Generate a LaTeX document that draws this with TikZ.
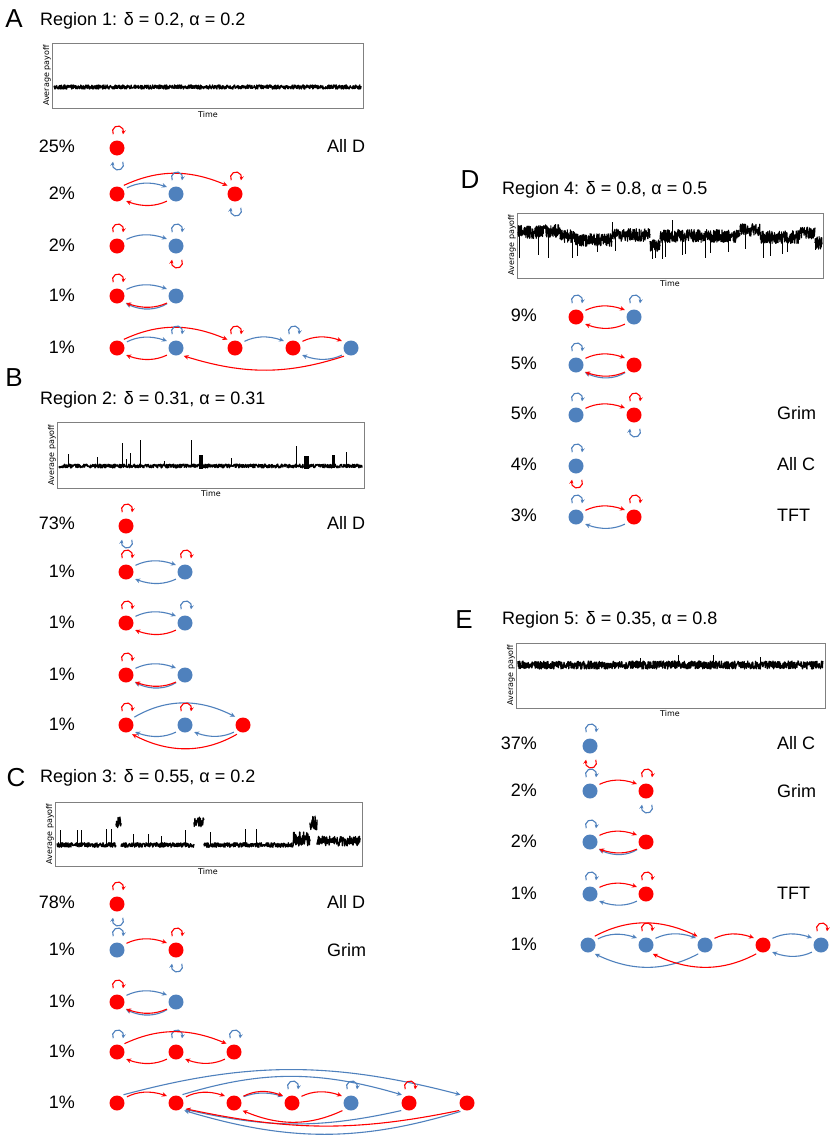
\documentclass[tikz,border=0pt]{standalone}
\usepackage{fontspec}
\setmainfont{Liberation Sans}
\newfontfamily\plotfont{DejaVu Sans}
\usetikzlibrary{arrows.meta,bending}
\definecolor{myred}{RGB}{255,0,0}
\definecolor{myblue}{RGB}{79,129,189}
\newcommand\LoopUp[2]{\draw[#1] ([shift={(-3.76pt,13.8pt)}]#2.center) arc[start angle=210,end angle=-30,radius=5.5pt];}
\newcommand\LoopDn[2]{\draw[#1] ([shift={(5.76pt,-13.8pt)}]#2.center) arc[start angle=30,end angle=-210,radius=5.5pt];}
\begin{document}
\begin{tikzpicture}[x=1pt,y=-1pt,
  st/.style={circle,inner sep=0pt,minimum size=15pt},
  rs/.style={st,fill=myred},
  bs/.style={st,fill=myblue},
  ra/.style={draw=myred,line width=1.1pt,-{Stealth[length=5pt,width=4.6pt]},shorten <=4pt,shorten >=4pt},
  ba/.style={draw=myblue,line width=1.1pt,-{Stealth[length=5pt,width=4.6pt]},shorten <=4pt,shorten >=4pt},
  rl/.style={draw=myred,line width=1.1pt,-{Stealth[length=3.8pt,width=4pt,bend]}},
  bl/.style={draw=myblue,line width=1.1pt,-{Stealth[length=3.8pt,width=4pt,bend]}},
  ttl/.style={font=\fontsize{18}{21}\selectfont,anchor=west,inner sep=0pt},
  pct/.style={font=\fontsize{18}{21}\selectfont,anchor=east,inner sep=0pt},
  lab/.style={font=\fontsize{18}{21}\selectfont,anchor=west,inner sep=0pt},
  panlet/.style={font=\fontsize{26}{28}\selectfont,inner sep=0pt},
  axl/.style={font=\plotfont\fontsize{8}{9}\selectfont,inner sep=0pt},
  frame/.style={draw=black!50,line width=0.7pt},
  trace/.style={draw=black,line width=1.3pt,line join=round}]
\fill[white] (0,0) rectangle (830,1135);
\useasboundingbox (0,0) rectangle (830,1135);
\pgfmathsetseed{7}

% ================= Panel A =================
\node[panlet] (LA) at (14,19) {A};
\node[ttl] (TA) at (40,21) {Region 1: δ = 0.2, α = 0.2};
\draw[frame] (52,43) rectangle (363,108);
\node[axl,rotate=90] (yA) at (47,75.5) {Average payoff};
\node[axl] (tA) at (208,115) {Time};
\draw[trace] plot[domain=54:361,samples=1000] (\x,{87+2.1*rand});

\node[pct] (pA1) at (75,146) {25\%};
\node[pct] (pA2) at (75,193) {2\%};
\node[pct] (pA3) at (75,245) {2\%};
\node[pct] (pA4) at (75,295) {1\%};
\node[pct] (pA5) at (75,347) {1\%};
\node[lab] (nA1) at (327,146) {All D};

\node[rs] (A11) at (117,148) {};
\LoopUp{rl}{A11} \LoopDn{bl}{A11}

\node[rs] (A21) at (117,194) {};
\node[bs] (A22) at (176,194) {};
\node[rs] (A23) at (235,194) {};
\draw[ba] (A21.35) to[bend left=25] (A22.135);
\draw[ra] (A21.65) to[bend left=25] (A23.120);
\LoopUp{bl}{A22}
\draw[ra] (A22.-135) to[bend left=25] (A21.-45);
\LoopUp{rl}{A23} \LoopDn{bl}{A23}

\node[rs] (A31) at (117,246) {};
\node[bs] (A32) at (176,246) {};
\LoopUp{rl}{A31}
\draw[ba] (A31.40) to[bend left=25] (A32.135);
\LoopUp{bl}{A32} \LoopDn{rl}{A32}

\node[rs] (A41) at (117,296) {};
\node[bs] (A42) at (176,296) {};
\LoopUp{rl}{A41}
\draw[ba] (A41.40) to[bend left=25] (A42.135);
\draw[ba] (A42.-135) to[bend left=32] (A41.-45);
\draw[ra] (A42.-135) to[bend left=24] (A41.-45);

\node[rs] (A51) at (117,348) {};
\node[bs] (A52) at (176,348) {};
\node[rs] (A53) at (235,348) {};
\node[rs] (A54) at (293,348) {};
\node[bs] (A55) at (351,348) {};
\draw[ba] (A51.35) to[bend left=25] (A52.135);
\draw[ra] (A51.65) to[bend left=25] (A53.120);
\LoopUp{bl}{A52}
\draw[ra] (A52.-135) to[bend left=25] (A51.-45);
\LoopUp{rl}{A53}
\draw[ba] (A53.40) to[bend left=25] (A54.135);
\LoopUp{bl}{A54}
\draw[ra] (A54.40) to[bend left=25] (A55.135);
\draw[ba] (A55.-135) to[bend left=25] (A54.-45);
\draw[ra] (A55.-115) to[bend left=18] (A52.-60);

% ================= Panel B =================
\node[panlet] (LB) at (14,378) {B};
\node[ttl] (TB) at (40,400) {Region 2: δ = 0.31, α = 0.31};
\draw[frame] (57,422) rectangle (364,488);
\node[axl,rotate=90] (yB) at (52,455) {Average payoff};
\node[axl] (tB) at (211,494) {Time};
\draw[trace] plot[domain=59:362,samples=1000] (\x,{466+1.9*rand});
\foreach \sx/\sy in {68/454,97/457,122/443,126/459,130/453,140/440,164/461,191/440,231/458,296/446,346/452}
  \draw[trace,line width=0.8pt] (\sx,466) -- (\sx,\sy);
\fill (198.5,455) rectangle (203,469);
\fill (304,456) rectangle (308.5,469);
\fill (332,455) rectangle (335,468);

\node[pct] (pB1) at (75,523) {73\%};
\node[pct] (pB2) at (75,571) {1\%};
\node[pct] (pB3) at (75,622) {1\%};
\node[pct] (pB4) at (75,674) {1\%};
\node[pct] (pB5) at (75,724) {1\%};
\node[lab] (nB1) at (327,523) {All D};

\node[rs] (B11) at (126,526) {};
\LoopUp{rl}{B11} \LoopDn{bl}{B11}

\node[rs] (B21) at (126,572) {};
\node[bs] (B22) at (185,572) {};
\LoopUp{rl}{B21}
\draw[ba] (B21.40) to[bend left=25] (B22.135);
\LoopUp{rl}{B22}
\draw[ba] (B22.-135) to[bend left=25] (B21.-45);

\node[rs] (B31) at (126,623) {};
\node[bs] (B32) at (185,623) {};
\LoopUp{rl}{B31}
\draw[ba] (B31.40) to[bend left=25] (B32.135);
\LoopUp{bl}{B32}
\draw[ra] (B32.-135) to[bend left=25] (B31.-45);

\node[rs] (B41) at (126,675) {};
\node[bs] (B42) at (185,675) {};
\LoopUp{rl}{B41}
\draw[ba] (B41.40) to[bend left=25] (B42.135);
\draw[ba] (B42.-135) to[bend left=32] (B41.-45);
\draw[ra] (B42.-135) to[bend left=24] (B41.-45);

\node[rs] (B51) at (126,725) {};
\node[bs] (B52) at (185,725) {};
\node[rs] (B53) at (243,725) {};
\LoopUp{rl}{B51}
\draw[ba] (B51.50) to[bend left=30] (B53.125);
\LoopUp{rl}{B52}
\draw[ba] (B52.-135) to[bend left=25] (B51.-45);
\draw[ba] (B53.-135) to[bend left=25] (B52.-45);
\draw[ra] (B53.-110) to[bend left=30] (B51.-70);

% ================= Panel C =================
\node[panlet] (LC) at (16,778) {C};
\node[ttl] (TC) at (40,778) {Region 3: δ = 0.55, α = 0.2};
\draw[frame] (55,802) rectangle (362,866);
\node[axl,rotate=90] (yC) at (50,834) {Average payoff};
\node[axl] (tC) at (208,872) {Time};
\draw[trace] plot[domain=57:116,samples=200] (\x,{845+2.3*rand});
\draw[trace] plot[domain=116:121,samples=20] (\x,{823+6*rand});
\draw[trace] plot[domain=121:194,samples=240] (\x,{845+2.3*rand});
\draw[trace] plot[domain=194:204,samples=34] (\x,{822+5*rand});
\draw[trace] plot[domain=204:293,samples=290] (\x,{845+2.3*rand});
\draw[trace] plot[domain=293:310,samples=60] (\x,{839+7*rand});
\draw[trace] plot[domain=310:317,samples=26] (\x,{823+7*rand});
\draw[trace] plot[domain=317:360,samples=150] (\x,{841+5*rand});
\foreach \sx/\sy in {60/830,77/830,81/830,106/829,111/829,133/834,148/834,161/836,185/830,210/832,245/829,256/829}
  \draw[trace,line width=0.8pt] (\sx,845) -- (\sx,\sy);

\node[pct] (pC1) at (75,902) {78\%};
\node[pct] (pC2) at (75,949) {1\%};
\node[pct] (pC3) at (75,1001) {1\%};
\node[pct] (pC4) at (75,1051) {1\%};
\node[pct] (pC5) at (75,1102) {1\%};
\node[lab] (nC1) at (327,902) {All D};
\node[lab] (nC2) at (327,950) {Grim};

\node[rs] (C11) at (117,904) {};
\LoopUp{rl}{C11} \LoopDn{bl}{C11}

\node[bs] (C21) at (117,950) {};
\node[rs] (C22) at (176,950) {};
\LoopUp{bl}{C21}
\draw[ra] (C21.40) to[bend left=25] (C22.135);
\LoopUp{rl}{C22} \LoopDn{bl}{C22}

\node[rs] (C31) at (117,1002) {};
\node[bs] (C32) at (176,1002) {};
\LoopUp{rl}{C31}
\draw[ba] (C31.40) to[bend left=25] (C32.135);
\draw[ba] (C32.-135) to[bend left=32] (C31.-45);
\draw[ra] (C32.-135) to[bend left=24] (C31.-45);

\node[rs] (C41) at (117,1052) {};
\node[rs] (C42) at (176,1052) {};
\node[rs] (C43) at (234,1052) {};
\LoopUp{bl}{C41} \LoopUp{bl}{C42} \LoopUp{bl}{C43}
\draw[ra] (C41.60) to[bend left=25] (C43.120);
\draw[ra] (C42.-135) to[bend left=25] (C41.-45);
\draw[ra] (C43.-135) to[bend left=25] (C42.-45);

\node[rs] (C51) at (117,1103) {};
\node[rs] (C52) at (176,1103) {};
\node[rs] (C53) at (234,1103) {};
\node[rs] (C54) at (292,1103) {};
\node[bs] (C55) at (351,1103) {};
\node[rs] (C56) at (409,1103) {};
\node[rs] (C57) at (467,1103) {};
\draw[ra] (C51.35) to[bend left=25] (C52.135);
\draw[ba] (C51.70) to[bend left=15] (C57.110);
\draw[ra] (C52.35) to[bend left=25] (C53.135);
\draw[ba] (C52.70) to[bend left=17] (C56.115);
\draw[ba] (C53.40) to[bend left=20] (C54.135);
\draw[ra] (C53.40) to[bend left=27] (C54.135);
\LoopUp{bl}{C54}
\draw[ra] (C54.40) to[bend left=25] (C55.135);
\LoopUp{bl}{C55}
\LoopUp{rl}{C56}
\draw[ra] (C55.-130) to[bend left=25] (C53.-50);
\draw[ba] (C56.-120) to[bend left=13] (C52.-45);
\draw[ra] (C57.-120) to[bend left=12] (C52.-40);
\draw[ba] (C57.-110) to[bend left=17] (C52.-55);

% ================= Panel D =================
\node[panlet] (LD) at (470,180) {D};
\node[ttl] (TD) at (502,190) {Region 4: δ = 0.8, α = 0.5};
\draw[frame] (517,213) rectangle (823,278);
\node[axl,rotate=90] (yD) at (512,245) {Average payoff};
\node[axl] (tD) at (670,284) {Time};
\foreach \xa/\xb/\yc/\ns in {518/538/232/80,538/560/231/90,560/575/236/60,575/612/240/150,612/650/235/150,650/660/245/40,660/740/236/320,740/760/230/80,760/800/237/160,800/815/233/60,815/822/243/30}
  \draw[trace,line width=1.1pt] plot[domain=\xa:\xb,samples=\ns] (\x,{\yc+6.5*rand});
\foreach \sx/\sa/\sy in {519/232/258,538/232/255,548/231/258,572/236/258,577/240/256,597/240/252,615/235/251,652/245/259,655/245/258,662/236/259,665/236/257,682/236/255,685/236/254,705/236/258,710/236/253,728/236/252,745/230/249,763/237/258,770/237/256,782/237/254,787/237/252,815/240/250,672/236/220,612/238/222}
  \draw[trace,line width=0.9pt] (\sx,\sa) -- (\sx,\sy);

\node[pct] (pD1) at (537,315) {9\%};
\node[pct] (pD2) at (537,363) {5\%};
\node[pct] (pD3) at (537,413) {5\%};
\node[pct] (pD4) at (537,464) {4\%};
\node[pct] (pD5) at (537,515) {3\%};
\node[lab] (nD3) at (777,413) {Grim};
\node[lab] (nD4) at (777,464) {All C};
\node[lab] (nD5) at (777,515) {TFT};

\node[rs] (D11) at (576,317) {};
\node[bs] (D12) at (634,317) {};
\LoopUp{bl}{D11}
\draw[ra] (D11.40) to[bend left=25] (D12.135);
\LoopUp{bl}{D12}
\draw[ra] (D12.-135) to[bend left=25] (D11.-45);

\node[bs] (D21) at (576,365) {};
\node[rs] (D22) at (634,365) {};
\LoopUp{bl}{D21}
\draw[ra] (D21.40) to[bend left=25] (D22.135);
\draw[ba] (D22.-135) to[bend left=32] (D21.-45);
\draw[ra] (D22.-135) to[bend left=24] (D21.-45);

\node[bs] (D31) at (576,415) {};
\node[rs] (D32) at (634,415) {};
\LoopUp{bl}{D31}
\draw[ra] (D31.40) to[bend left=25] (D32.135);
\LoopUp{rl}{D32} \LoopDn{bl}{D32}

\node[bs] (D41) at (576,466) {};
\LoopUp{bl}{D41} \LoopDn{rl}{D41}

\node[bs] (D51) at (576,517) {};
\node[rs] (D52) at (634,517) {};
\LoopUp{bl}{D51}
\draw[ra] (D51.40) to[bend left=25] (D52.135);
\LoopUp{rl}{D52}
\draw[ba] (D52.-135) to[bend left=25] (D51.-45);

% ================= Panel E =================
\node[panlet] (LE) at (464,620) {E};
\node[ttl] (TE) at (502,620) {Region 5: δ = 0.35, α = 0.8};
\draw[frame] (516,643) rectangle (825,708);
\node[axl,rotate=90] (yE) at (511,675) {Average payoff};
\node[axl] (tE) at (670,714) {Time};
\draw[trace] plot[domain=518:823,samples=1100] (\x,{665+4*rand});
\foreach \sx/\sy in {678/655,713/655,640/658,760/657}
  \draw[trace,line width=0.8pt] (\sx,665) -- (\sx,\sy);

\node[pct] (pE1) at (537,743) {37\%};
\node[pct] (pE2) at (537,790) {2\%};
\node[pct] (pE3) at (537,841) {2\%};
\node[pct] (pE4) at (537,893) {1\%};
\node[pct] (pE5) at (537,944) {1\%};
\node[lab] (nE1) at (777,743) {All C};
\node[lab] (nE2) at (777,791) {Grim};
\node[lab] (nE4) at (777,893) {TFT};

\node[bs] (E11) at (590,746) {};
\LoopUp{bl}{E11} \LoopDn{rl}{E11}

\node[bs] (E21) at (590,791) {};
\node[rs] (E22) at (646,791) {};
\LoopUp{bl}{E21}
\draw[ra] (E21.40) to[bend left=25] (E22.135);
\LoopUp{rl}{E22} \LoopDn{bl}{E22}

\node[bs] (E31) at (590,842) {};
\node[rs] (E32) at (646,842) {};
\LoopUp{bl}{E31}
\draw[ra] (E31.40) to[bend left=25] (E32.135);
\draw[ba] (E32.-135) to[bend left=32] (E31.-45);
\draw[ra] (E32.-135) to[bend left=24] (E31.-45);

\node[bs] (E41) at (590,894) {};
\node[rs] (E42) at (646,894) {};
\LoopUp{bl}{E41}
\draw[ra] (E41.40) to[bend left=25] (E42.135);
\LoopUp{rl}{E42}
\draw[ba] (E42.-135) to[bend left=25] (E41.-45);

\node[bs] (E51) at (588,945) {};
\node[bs] (E52) at (646,945) {};
\node[bs] (E53) at (705,945) {};
\node[rs] (E54) at (763,945) {};
\node[bs] (E55) at (821,945) {};
\draw[ba] (E51.35) to[bend left=25] (E52.135);
\draw[ra] (E51.65) to[bend left=28] (E53.120);
\LoopUp{rl}{E52}
\draw[ba] (E52.40) to[bend left=25] (E53.135);
\draw[ra] (E53.40) to[bend left=25] (E54.135);
\draw[ba] (E53.-115) to[bend left=28] (E51.-65);
\draw[ba] (E54.40) to[bend left=25] (E55.135);
\draw[ra] (E54.-115) to[bend left=28] (E52.-65);
\LoopUp{rl}{E55}
\draw[ba] (E55.-135) to[bend left=25] (E54.-45);
\end{tikzpicture}
\end{document}
